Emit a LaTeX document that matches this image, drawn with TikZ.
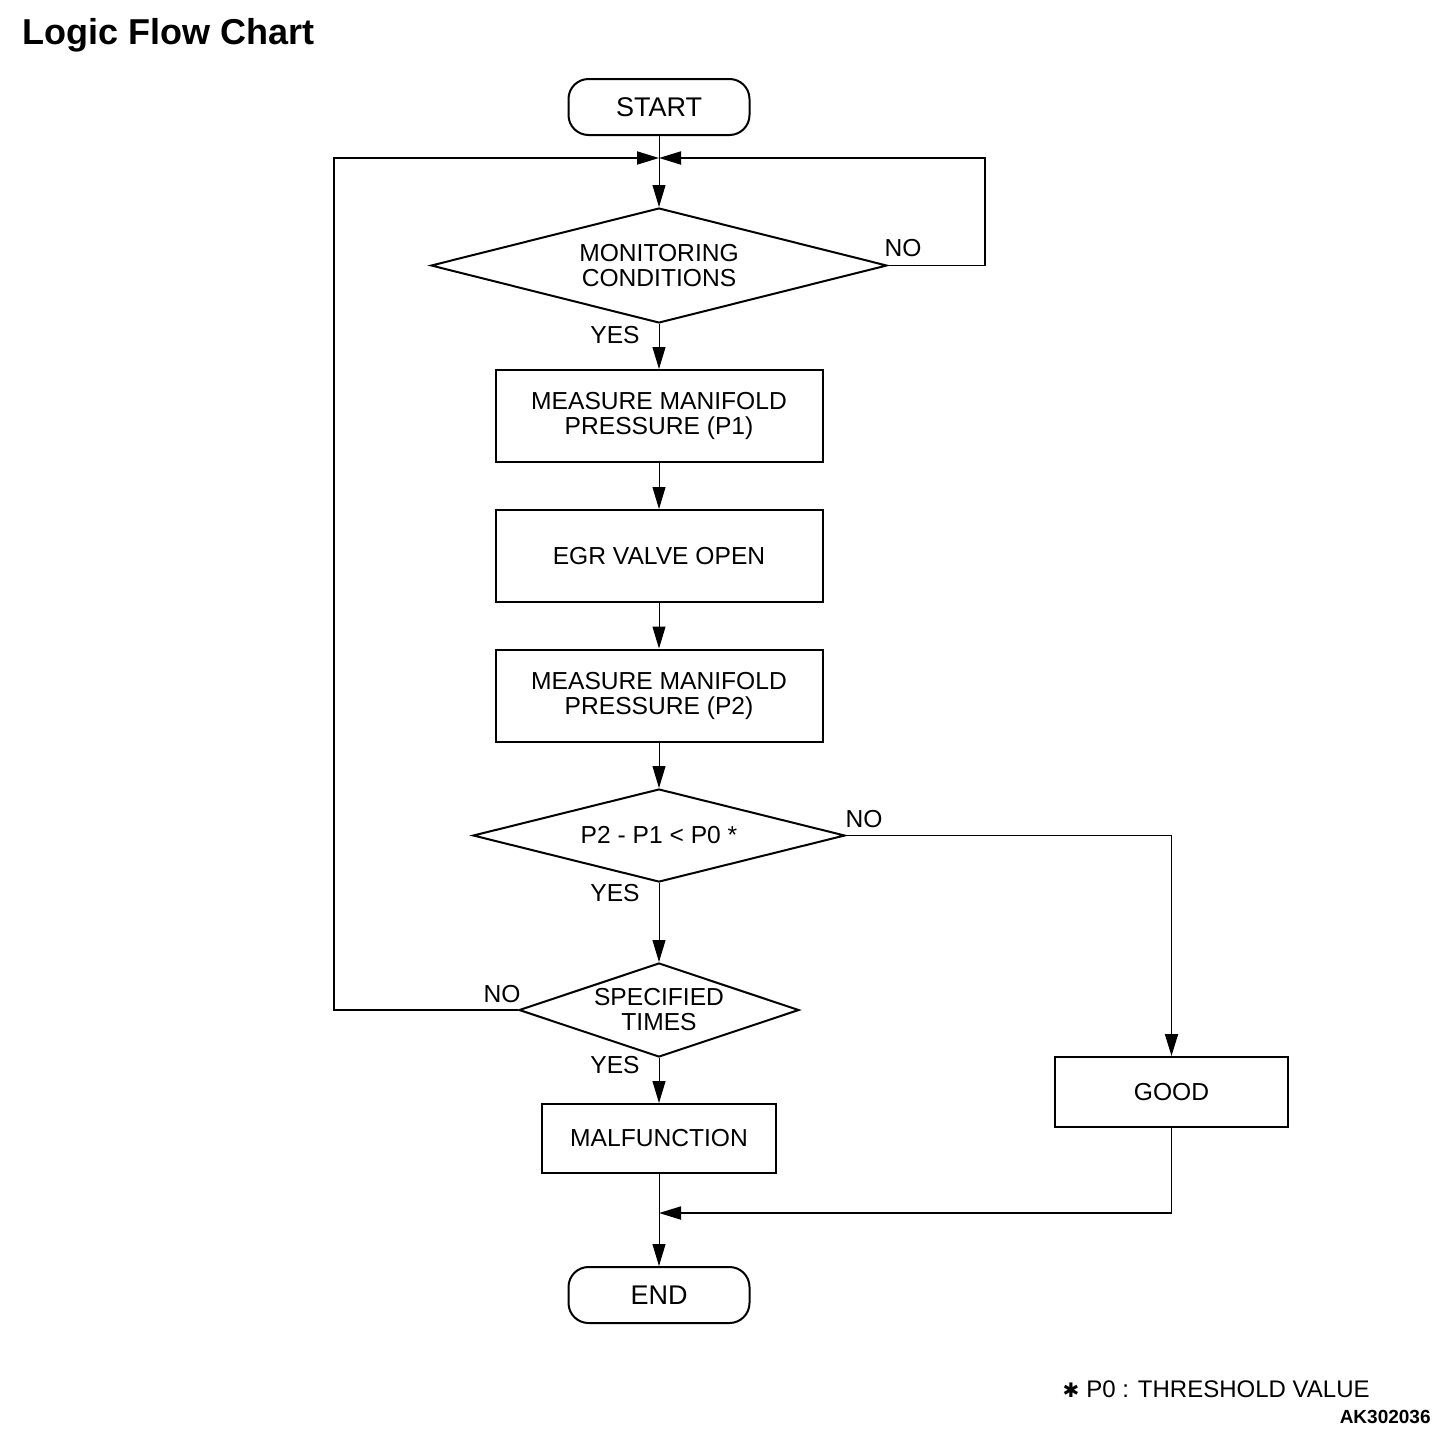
\documentclass[tikz,border=0pt]{standalone}
\usepackage{fontspec}
\setmainfont{Liberation Sans}
\newfontfamily\symfont{DejaVu Sans}
\usetikzlibrary{shapes.geometric,arrows.meta}
\begin{document}
\begin{tikzpicture}[x=0.5pt,y=-0.5pt,
  txt/.style={font=\fontsize{12.3}{12.5}\selectfont},
  box/.style={draw,line width=1pt,rectangle,inner sep=0pt,align=center,txt},
  term/.style={draw,line width=1pt,rounded corners=10pt,minimum width=90.5pt,minimum height=28pt,inner sep=0pt,font=\fontsize{13.5}{13.5}\selectfont},
  dec/.style={draw,line width=1pt,diamond,inner sep=0pt,align=center,txt},
  lbl/.style={txt,inner sep=0pt},
  conn/.style={line width=0.5pt},
  loopl/.style={line width=0.9pt},
  arr/.style={-{Triangle[length=11pt,width=6.5pt]}}
]
\useasboundingbox (0,0) rectangle (1456,1446);

\node[anchor=base west,inner sep=0pt,font=\bfseries\fontsize{18}{18}\selectfont] (title) at (22,44) {Logic Flow Chart};

\node[term] (start) at (659,107) {START};
\node[dec,shape aspect=4,minimum width=228pt,minimum height=57.5pt] (d1) at (659,265.5) {MONITORING\\CONDITIONS};
\node[box,minimum width=163.5pt,minimum height=46pt] (b1) at (659,416) {MEASURE MANIFOLD\\PRESSURE (P1)};
\node[box,minimum width=163.5pt,minimum height=46pt] (b2) at (659,556) {EGR VALVE OPEN};
\node[box,minimum width=163.5pt,minimum height=46pt] (b3) at (659,695.5) {MEASURE MANIFOLD\\PRESSURE (P2)};
\node[dec,shape aspect=4,minimum width=186pt,minimum height=46.5pt] (d2) at (659,835.5) {P2 - P1 {<} P0 *};
\node[dec,shape aspect=3,minimum width=140pt,minimum height=47pt] (d3) at (659,1010) {SPECIFIED\\TIMES};
\node[box,minimum width=117pt,minimum height=34.5pt] (mal) at (659,1138.5) {MALFUNCTION};
\node[box,minimum width=116.5pt,minimum height=35pt] (good) at (1171.5,1092) {GOOD};
\node[term] (endn) at (659,1295) {END};

\node[lbl] (no1) at (903,248) {NO};
\node[lbl] (yes1) at (615,335) {YES};
\node[lbl] (no2) at (864,819) {NO};
\node[lbl] (yes2) at (615,893) {YES};
\node[lbl] (no3) at (502,994) {NO};
\node[lbl] (yes3) at (615,1065) {YES};

\coordinate (j) at (659,158);
\coordinate (lt) at (334,158);
\coordinate (lb) at (334,1010);
\coordinate (rt) at (985,158);
\coordinate (rb) at (985,265.5);
\coordinate (gj) at (659,1213);

\draw[conn] (start.south) -- (j);
\draw[conn,arr] (j) -- (d1.north);
\draw[loopl,arr] (d1.east) -- (rb) -- (rt) -- (j);
\draw[loopl,arr] (d3.west) -- (lb) -- (lt) -- (j);
\draw[conn,arr] (d1.south) -- (b1.north);
\draw[conn,arr] (b1.south) -- (b2.north);
\draw[conn,arr] (b2.south) -- (b3.north);
\draw[conn,arr] (b3.south) -- (d2.north);
\draw[conn,arr] (d2.south) -- (d3.north);
\draw[loopl,arr] (d2.east) -| (good.north);
\draw[conn,arr] (d3.south) -- (mal.north);
\draw[conn,arr] (mal.south) -- (endn.north);
\draw[loopl,arr] (good.south) |- (gj);

\node[anchor=base east,inner sep=0pt,font=\fontsize{12}{12}\selectfont] (fn) at (1370,1397) {{\symfont\fontsize{10}{10}\selectfont ✱}\hspace{3.5pt}P0 : THRESHOLD VALUE};
\node[anchor=base east,inner sep=0pt,font=\bfseries\fontsize{9.5}{9.5}\selectfont] (ak) at (1431,1423) {AK302036};
\end{tikzpicture}
\end{document}
